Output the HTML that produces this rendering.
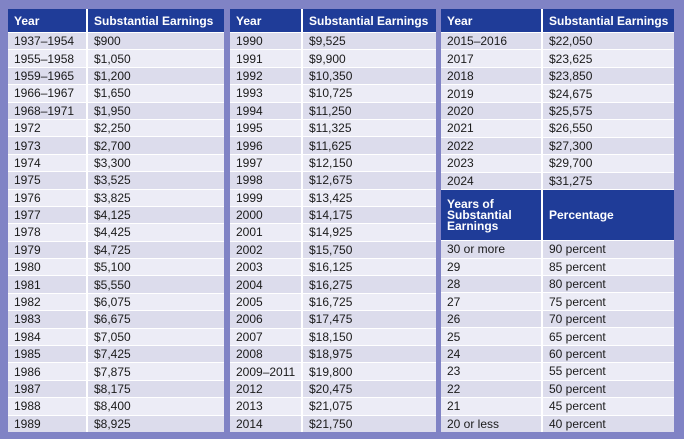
<!DOCTYPE html>
<html><head><meta charset="utf-8"><style>
body{margin:0;width:684px;height:439px;background:#8083c5;position:relative;overflow:hidden;font-family:"Liberation Sans",Arial,sans-serif;font-size:12px;color:#1a1a1a}
.g{position:absolute;top:9px;height:423px;display:grid;background:#fff;column-gap:2px;row-gap:1px}
.g div{padding-left:6px;display:flex;align-items:center;white-space:nowrap;overflow:hidden;background:#ececf6}
.g div:nth-child(4n+3),.g div:nth-child(4n+4){background:#dcdcec}
.g div.h{background:#1f3c98;color:#fff;font-weight:bold}
.t1{left:8px;width:216px;grid-template-columns:78px 1fr;grid-template-rows:23px repeat(23,minmax(0,1fr))}
.t2{left:230px;width:206px;grid-template-columns:71px 1fr;grid-template-rows:23px repeat(23,minmax(0,1fr))}
.t3{left:441px;width:233px;grid-template-columns:100px 1fr;grid-template-rows:23px repeat(9,minmax(0,1fr)) 50px repeat(11,minmax(0,1fr))}
.g div.b{line-height:11px}
</style></head><body>
<div class="g t1">
<div class="h">Year</div><div class="h">Substantial Earnings</div>
<div>1937–1954</div><div>$900</div>
<div>1955–1958</div><div>$1,050</div>
<div>1959–1965</div><div>$1,200</div>
<div>1966–1967</div><div>$1,650</div>
<div>1968–1971</div><div>$1,950</div>
<div>1972</div><div>$2,250</div>
<div>1973</div><div>$2,700</div>
<div>1974</div><div>$3,300</div>
<div>1975</div><div>$3,525</div>
<div>1976</div><div>$3,825</div>
<div>1977</div><div>$4,125</div>
<div>1978</div><div>$4,425</div>
<div>1979</div><div>$4,725</div>
<div>1980</div><div>$5,100</div>
<div>1981</div><div>$5,550</div>
<div>1982</div><div>$6,075</div>
<div>1983</div><div>$6,675</div>
<div>1984</div><div>$7,050</div>
<div>1985</div><div>$7,425</div>
<div>1986</div><div>$7,875</div>
<div>1987</div><div>$8,175</div>
<div>1988</div><div>$8,400</div>
<div>1989</div><div>$8,925</div>
</div>
<div class="g t2">
<div class="h">Year</div><div class="h">Substantial Earnings</div>
<div>1990</div><div>$9,525</div>
<div>1991</div><div>$9,900</div>
<div>1992</div><div>$10,350</div>
<div>1993</div><div>$10,725</div>
<div>1994</div><div>$11,250</div>
<div>1995</div><div>$11,325</div>
<div>1996</div><div>$11,625</div>
<div>1997</div><div>$12,150</div>
<div>1998</div><div>$12,675</div>
<div>1999</div><div>$13,425</div>
<div>2000</div><div>$14,175</div>
<div>2001</div><div>$14,925</div>
<div>2002</div><div>$15,750</div>
<div>2003</div><div>$16,125</div>
<div>2004</div><div>$16,275</div>
<div>2005</div><div>$16,725</div>
<div>2006</div><div>$17,475</div>
<div>2007</div><div>$18,150</div>
<div>2008</div><div>$18,975</div>
<div>2009–2011</div><div>$19,800</div>
<div>2012</div><div>$20,475</div>
<div>2013</div><div>$21,075</div>
<div>2014</div><div>$21,750</div>
</div>
<div class="g t3">
<div class="h">Year</div><div class="h">Substantial Earnings</div>
<div>2015–2016</div><div>$22,050</div>
<div>2017</div><div>$23,625</div>
<div>2018</div><div>$23,850</div>
<div>2019</div><div>$24,675</div>
<div>2020</div><div>$25,575</div>
<div>2021</div><div>$26,550</div>
<div>2022</div><div>$27,300</div>
<div>2023</div><div>$29,700</div>
<div>2024</div><div>$31,275</div>
<div class="h b">Years of<br>Substantial<br>Earnings</div><div class="h">Percentage</div>
<div>30 or more</div><div>90 percent</div>
<div>29</div><div>85 percent</div>
<div>28</div><div>80 percent</div>
<div>27</div><div>75 percent</div>
<div>26</div><div>70 percent</div>
<div>25</div><div>65 percent</div>
<div>24</div><div>60 percent</div>
<div>23</div><div>55 percent</div>
<div>22</div><div>50 percent</div>
<div>21</div><div>45 percent</div>
<div>20 or less</div><div>40 percent</div>
</div>
</body></html>
